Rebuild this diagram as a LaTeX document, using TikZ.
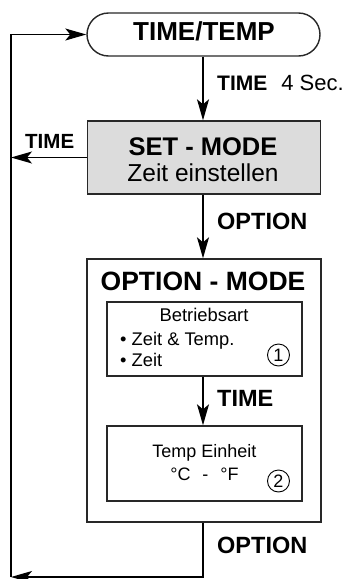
\documentclass[tikz,border=0pt]{standalone}
\usepackage{fontspec}
\setmainfont{Liberation Sans}
\usetikzlibrary{arrows.meta}
\definecolor{boxgray}{RGB}{220,220,220}
\definecolor{linegray}{RGB}{40,40,40}
\tikzset{
  conn/.style={line width=1.2pt, black},
  tip/.style={-{Stealth[length=21pt,width=12pt,inset=5pt]}},
  frame/.style={draw=linegray, line width=1.4pt, inner sep=0pt},
  lbl/.style={inner sep=0pt, anchor=base west},
  ctr/.style={inner sep=0pt, anchor=base},
  circnum/.style={circle, draw=black, line width=0.9pt, inner sep=0pt, minimum size=22pt, font=\fontsize{18}{18}\selectfont},
}
\begin{document}
\begin{tikzpicture}[x=1pt,y=-1pt]
\useasboundingbox (0,0) rectangle (350,579);
% boxes
\node[frame, rounded corners=21.5pt, minimum width=233pt, minimum height=43pt] (tt) at (203.5,34.5) {};
\node[frame, fill=boxgray, minimum width=233pt, minimum height=73pt] (set) at (204,157.5) {};
\node[frame, minimum width=234pt, minimum height=263pt] (opt) at (204,390.5) {};
\node[frame, minimum width=195pt, minimum height=74pt] (b1) at (204.5,339) {};
\node[frame, minimum width=195pt, minimum height=75pt] (b2) at (204.5,463.5) {};
% texts
\node[ctr, font=\bfseries\fontsize{26}{25}\selectfont] (ttt) at (204,40) {TIME/TEMP};
\node[ctr, font=\bfseries\fontsize{25.5}{25}\selectfont] (st1) at (203,155) {SET - MODE};
\node[ctr, font=\fontsize{24.5}{25}\selectfont] (st2) at (203,181.5) {Zeit einstellen};
\node[ctr, font=\bfseries\fontsize{26.5}{25}\selectfont] (ot) at (203,290) {OPTION - MODE};
\node[ctr, font=\fontsize{18.4}{20}\selectfont] (bt1) at (204,321) {Betriebsart};
\node[lbl, font=\fontsize{18.3}{20}\selectfont] (bt2) at (120,345) {\textbullet\ Zeit \& Temp.};
\node[lbl, font=\fontsize{18.3}{20}\selectfont] (bt3) at (120,366) {\textbullet\ Zeit};
\node[circnum] (n1) at (278.5,355) {1};
\node[ctr, font=\fontsize{18}{20}\selectfont] (te1) at (204.5,457) {Temp Einheit};
\node[ctr, font=\fontsize{18}{20}\selectfont] (te2) at (204.5,480) {°C\hspace{12pt}-\hspace{12pt}°F};
\node[circnum] (n2) at (278.5,481) {2};
% labels
\node[lbl] (l1) at (217,90.7) {\fontsize{21}{21}\selectfont\bfseries TIME\hspace{14pt}\mdseries\fontsize{22}{22}\selectfont 4 Sec.};
\node[lbl, font=\bfseries\fontsize{20.5}{21}\selectfont] (l2) at (25,148) {TIME};
\node[lbl, font=\bfseries\fontsize{23.5}{21}\selectfont] (l3) at (217,229) {OPTION};
\node[lbl, font=\bfseries\fontsize{23.5}{21}\selectfont] (l4) at (217,406) {TIME};
\node[lbl, font=\bfseries\fontsize{23.5}{21}\selectfont] (l5) at (217,553) {OPTION};
% connectors
\coordinate (lt) at (11,157.5);
\coordinate (bl) at (11,577);
\coordinate (br) at (203,577);
\coordinate (tl) at (11,34.5);
\draw[conn, tip] (tt.south -| 203,0) -- (set.north -| 203,0);
\draw[conn, tip] (set.south -| 203,0) -- (opt.north -| 203,0);
\draw[conn, tip] (b1.south -| 203,0) -- (b2.north -| 203,0);
\draw[conn, tip] (set.west) -- (lt);
\draw[conn, tip] (opt.south -| 203,0) -- (br) -- (bl);
\draw[conn, tip] (bl) -- (tl) -- (tt.west);
\end{tikzpicture}
\end{document}
